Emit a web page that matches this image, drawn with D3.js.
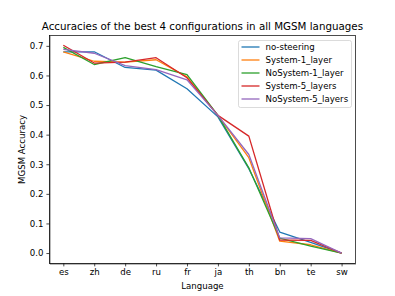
<!DOCTYPE html>
<html>
<head>
<meta charset="utf-8">
<script src="https://cdn.jsdelivr.net/npm/d3@7"></script>
<style>
  body { margin: 0; background: #fff; }
  text { font-family: "DejaVu Sans", sans-serif; fill: #000; }
  .axis path, .axis line { stroke: #000; stroke-width: 0.7; }
  .axis text { font-size: 8.6px; }
</style>
</head>
<body>
<script>
var languages = ['es', 'zh', 'de', 'ru', 'fr', 'ja', 'th', 'bn', 'te', 'sw'];

var seriesNames = ['no-steering', 'System-1_layer', 'NoSystem-1_layer', 'System-5_layers', 'NoSystem-5_layers'];

var noSteering      = [0.680, 0.680, 0.627, 0.618, 0.555, 0.460, 0.285, 0.071, 0.036, 0.000];
var system1Layer    = [0.680, 0.648, 0.645, 0.653, 0.595, 0.465, 0.322, 0.040, 0.028, 0.000];
var noSystem1Layer  = [0.695, 0.637, 0.660, 0.630, 0.603, 0.465, 0.288, 0.050, 0.023, 0.000];
var system5Layers   = [0.702, 0.642, 0.645, 0.660, 0.592, 0.465, 0.395, 0.044, 0.043, 0.000];
var noSystem5Layers = [0.688, 0.675, 0.633, 0.620, 0.585, 0.465, 0.333, 0.051, 0.049, 0.000];

var yTicks = [0.0, 0.1, 0.2, 0.3, 0.4, 0.5, 0.6, 0.7];

var colors = ['#1f77b4', '#ff7f0e', '#2ca02c', '#d62728', '#9467bd'];

var allSeries = [noSteering, system1Layer, noSystem1Layer, system5Layers, noSystem5Layers];

var svgWidth = 395, svgHeight = 296;
var plotLeft = 49.4, plotRight = 355.5, plotTop = 35.5, plotBottom = 263.4;

var xScale = d3.scaleLinear()
    .domain([-0.45, languages.length - 1 + 0.45])
    .range([plotLeft, plotRight]);

var yScale = d3.scaleLinear()
    .domain([-0.035, 0.735])
    .range([plotBottom, plotTop]);

var svg = d3.select('body')
    .append('svg')
    .attr('width', svgWidth)
    .attr('height', svgHeight);

var line = d3.line()
    .x(function(d, i) { return xScale(i); })
    .y(function(d) { return yScale(d); });

// lines first, then axes frame on top
allSeries.forEach(function(s, i) {
    svg.append('path')
        .datum(s)
        .attr('fill', 'none')
        .attr('stroke', colors[i])
        .attr('stroke-width', 1.3)
        .attr('stroke-linejoin', 'round')
        .attr('d', line);
});

var xAxis = d3.axisBottom(xScale)
    .tickValues(d3.range(languages.length))
    .tickFormat(function(i) { return languages[i]; })
    .tickSize(3)
    .tickPadding(3)
    .tickSizeOuter(0);

var yAxis = d3.axisLeft(yScale)
    .tickValues(yTicks)
    .tickFormat(d3.format('.1f'))
    .tickSize(3)
    .tickPadding(3)
    .tickSizeOuter(0);

svg.append('g')
    .attr('class', 'x axis')
    .attr('transform', `translate(0, ${plotBottom})`)
    .call(xAxis);

svg.append('g')
    .attr('class', 'y axis')
    .attr('transform', `translate(${plotLeft}, 0)`)
    .call(yAxis);

// frame
svg.append('rect')
    .attr('x', plotLeft)
    .attr('y', plotTop)
    .attr('width', plotRight - plotLeft)
    .attr('height', plotBottom - plotTop)
    .attr('fill', 'none')
    .attr('stroke', '#000')
    .attr('stroke-width', 0.7);

svg.append('text')
    .attr('x', (plotLeft + plotRight) / 2)
    .attr('y', 30)
    .attr('text-anchor', 'middle')
    .style('font-size', '10.3px')
    .text('Accuracies of the best 4 configurations in all MGSM languages');

svg.append('text')
    .attr('x', (plotLeft + plotRight) / 2)
    .attr('y', 288.5)
    .attr('text-anchor', 'middle')
    .style('font-size', '8.6px')
    .text('Language');

svg.append('text')
    .attr('transform', `translate(24.5, ${(plotTop + plotBottom) / 2}) rotate(-90)`)
    .attr('text-anchor', 'middle')
    .style('font-size', '8.6px')
    .text('MGSM Accuracy');

// legend
var legend = svg.append('g')
    .attr('transform', 'translate(238.5, 40.5)');

legend.append('rect')
    .attr('width', 113)
    .attr('height', 67)
    .attr('rx', 2)
    .attr('fill', '#fff')
    .attr('fill-opacity', 0.8)
    .attr('stroke', '#ccc')
    .attr('stroke-width', 0.7);

seriesNames.forEach(function(name, i) {
    var yy = 6.5 + i * 13;
    legend.append('line')
        .attr('x1', 3)
        .attr('x2', 21)
        .attr('y1', yy)
        .attr('y2', yy)
        .attr('stroke', colors[i])
        .attr('stroke-width', 1.3);
    legend.append('text')
        .attr('x', 27)
        .attr('y', yy + 3)
        .style('font-size', '8.6px')
        .text(name);
});
</script>
</body>
</html>
